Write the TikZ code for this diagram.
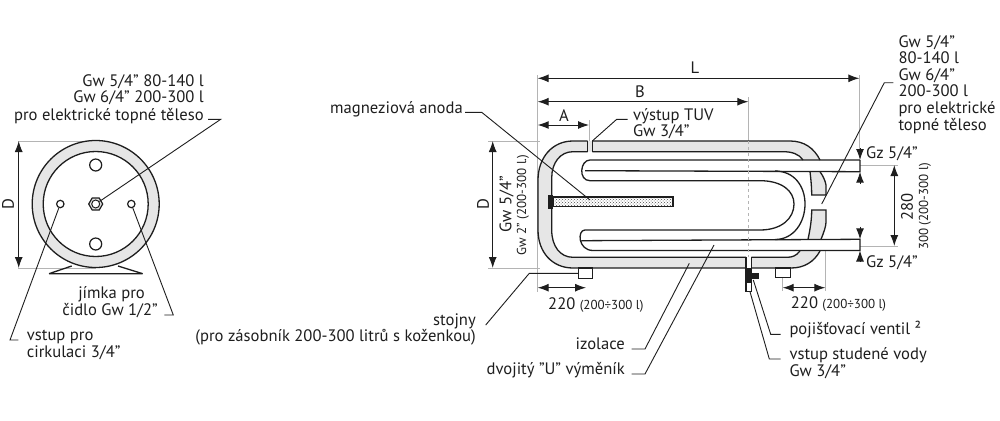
\documentclass[tikz,border=0pt]{standalone}
\usepackage{fontspec}
\setmainfont{PT Sans}
\usetikzlibrary{arrows.meta,patterns}
\definecolor{ins}{HTML}{E6E6E6}
\definecolor{ext}{HTML}{B4B4B4}
\definecolor{ink}{HTML}{1E1E1E}
\tikzset{
  outl/.style={draw=ink,line width=1.3pt},
  leader/.style={draw=ink,line width=0.9pt},
  extline/.style={draw=ext,line width=0.8pt},
  dimline/.style={draw=ink,line width=1pt,{Latex[length=11pt,width=8pt]}-{Latex[length=11pt,width=8pt]}},
  ptr/.style={draw=ink,line width=1pt,-{Latex[length=11pt,width=8pt]}},
  txt/.style={inner sep=0pt,text=ink,font=\fontsize{16.6}{18}\selectfont},
  small/.style={inner sep=0pt,text=ink,font=\fontsize{13}{15}\selectfont},
}
\begin{document}
\begin{tikzpicture}[x=1pt,y=-1pt]
\useasboundingbox (0,0) rectangle (1000,420);
\fill[white] (0,0) rectangle (1000,420);
% ---------- left view ----------
\coordinate (c) at (95.7,204);
\draw[extline] (18,141) -- (96,141) (18,268) -- (96,268);
\fill[ins] (c) circle (63.5);
\draw[outl,fill=white] (c) circle (52.5);
\draw[outl] (c) circle (63.5);
\draw[outl] (49,273.7) -- (142.7,273.7) (49,273.7) -- (71.7,266) (142.7,273.7) -- (118,266);
\node[draw=ink,line width=1.2pt,circle,minimum size=12pt,inner sep=0pt] (h1) at (95.7,165) {};
\node[draw=ink,line width=1.2pt,circle,minimum size=12pt,inner sep=0pt] (h2) at (95.7,244) {};
\node[draw=ink,line width=1.2pt,circle,minimum size=7.4pt,inner sep=0pt] (h3) at (60.3,204) {};
\node[draw=ink,line width=1.2pt,circle,minimum size=7.4pt,inner sep=0pt] (h4) at (131.3,204) {};
\draw[ink,line width=1.2pt,fill=ins] (102.7,204) -- (99.2,210) -- (92.2,210) -- (88.7,204) -- (92.2,198) -- (99.2,198) -- cycle;
\node[draw=ink,line width=1pt,circle,fill=white,minimum size=8pt,inner sep=0pt] (h0) at (95.7,204) {};
\coordinate (dla) at (18.7,141); \coordinate (dlb) at (18.7,268);
\draw[dimline] (dla) -- (dlb);
\node[txt,rotate=90] (dl) at (8,204) {D};
\node[txt,anchor=base east] (t1) at (204,86.7) {Gw 5/4" 80-140 l};
\node[txt,anchor=base east] (t2) at (204,102.5) {Gw 6/4" 200-300 l};
\node[txt,anchor=base east] (t3) at (204,120) {pro elektrické topné těleso};
\coordinate (l1a) at (208,119.3); \coordinate (l1b) at (220.7,119.3);
\draw[leader] (l1a) -- (l1b) -- (h0);
\node[txt,anchor=base east] (t4) at (145,298) {jímka pro};
\node[txt,anchor=base east] (t5) at (158,315) {čidlo Gw 1/2"};
\coordinate (l2a) at (164.3,315); \coordinate (l2b) at (173.3,315);
\draw[leader] (l2a) -- (l2b) -- (h4);
\node[txt,anchor=base west] (t6) at (26.7,340) {vstup pro};
\node[txt,anchor=base west] (t7) at (26.7,357) {cirkulaci 3/4"};
\coordinate (l3a) at (18.3,340); \coordinate (l3b) at (10,340);
\draw[leader] (l3a) -- (l3b) -- (h3);
% ---------- right view: extension lines ----------
\draw[extline] (537.7,75) -- (537.7,292);
\draw[extline] (859.3,75) -- (859.3,150);
\draw[extline] (589,120) -- (589,141);
\draw[extline] (748.3,97) -- (748.3,141);
\draw[extline] (488,141) -- (540,141) (488,268) -- (540,268);
\draw[extline] (860,165) -- (898,165) (860,246) -- (898,246);
\draw[extline] (825.3,250) -- (825.3,291);
\draw[extline] (782.7,278) -- (782.7,291);
% tank body
\path[fill=ins] (573,141) -- (790,141) .. controls (804,141) and (814,148) .. (820,160) -- (820,251) .. controls (814,262) and (804,268) .. (791,268) -- (573,268) .. controls (552,268) and (538,252) .. (538,230) -- (538,180) .. controls (538,158) and (552,141) .. (573,141) -- cycle;
\path[fill=white] (573,151.7) -- (783,151.7) .. controls (792,151.7) and (799,154) .. (803,160) -- (800,251.7) .. controls (796,256) and (792,257.3) .. (787,257.3) -- (573,257.3) .. controls (560,257.3) and (551.7,246) .. (551.7,230) -- (551.7,178) .. controls (551.7,163) and (560,151.7) .. (573,151.7) -- cycle;
\fill[white] (799,160) rectangle (828,251);
\draw[outl] (820,160) .. controls (814,148) and (804,141) .. (790,141) -- (592.3,141);
\draw[outl] (587.7,141) -- (573,141) .. controls (552,141) and (538,158) .. (538,180) -- (538,230) .. controls (538,252) and (552,268) .. (573,268) -- (746,268);
\draw[outl] (751.3,268) -- (791,268) .. controls (804,268) and (814,262) .. (820,251);
\draw[outl] (587.7,151.7) -- (573,151.7) .. controls (560,151.7) and (551.7,163) .. (551.7,178) -- (551.7,230) .. controls (551.7,246) and (560,257.3) .. (573,257.3) -- (746,257.3);
\draw[outl] (592.3,151.7) -- (783,151.7) .. controls (792,151.7) and (799,154) .. (803,160);
\draw[outl] (751.3,257.3) -- (787,257.3) .. controls (792,257.3) and (796,256) .. (800,251);
\draw[outl] (587.7,141) -- (587.7,151.7) (592.3,141) -- (592.3,151.7);
\fill[white] (746,256.8) rectangle (751.3,268.5);
\draw[outl] (746,257.3) -- (746,268) (751.3,257.3) -- (751.3,268);
% right flange pieces
\path[fill=ins] (810,171.7) .. controls (811,180) and (811.7,188) .. (811.7,195) -- (826,195) -- (826,185) .. controls (825,180) and (823,176) .. (820,171.7) -- cycle;
\path[fill=ins] (811.7,210) .. controls (811.7,220) and (810,230) .. (808,239.3) -- (821,239.3) .. controls (824,232) and (826,226) .. (826,222) -- (826,210) -- cycle;
\draw[outl] (810,171.7) .. controls (811,180) and (811.7,188) .. (811.7,195) -- (826,195) -- (826,185) .. controls (825,180) and (823,176) .. (820,171.7);
\draw[outl] (808,239.3) .. controls (810,230) and (811.7,220) .. (811.7,210) -- (826,210) -- (826,222) .. controls (826,226) and (824,232) .. (821,239.3);
% U tubes
\draw[outl] (860,160) -- (590,160) .. controls (580,160) and (578,180.7) .. (590,180.7) -- (760,180.7) .. controls (782,180.7) and (794,191) .. (794,204) .. controls (794,218) and (782,230) .. (760,230) -- (585,230) .. controls (577,230) and (578,250.5) .. (593,250.5) -- (860,250.5) -- (860,239.3) -- (581.7,240.7);
\draw[outl] (860,160) -- (860,171.7) -- (585,170.7);
\draw[outl] (775,171) .. controls (794,171) and (805,186) .. (805,204) .. controls (805,222) and (794,239.5) .. (775,239.5);
% dashed centre
\draw[extline,dashed] (748.3,141) -- (748.3,257);
% anode
\node[draw=ink,line width=1.3pt,minimum width=120pt,minimum height=9.6pt,inner sep=0pt,preaction={fill=white},pattern=crosshatch dots,pattern color=ink!80] (an) at (613,201.8) {};
\fill[ink] (548.3,195) rectangle (553.3,209);
% feet
\draw[outl,fill=white] (578.3,268) rectangle (592.7,278.3);
\draw[outl,fill=white] (775.7,268) rectangle (790.7,277.3);
% valve
\draw[outl,fill=white] (746,281) rectangle (751.3,291.7);
\fill[ink] (745.4,268) rectangle (751.9,283);
\fill[ink] (751,272.7) rectangle (759.3,279.3);
% dimensions
\coordinate (ll) at (537.7,78.3); \coordinate (lr) at (859.3,78.3);
\draw[dimline] (ll) -- (lr);
\node[txt] (tL) at (695,68) {L};
\coordinate (bl) at (537.7,101.7); \coordinate (br) at (748.3,101.7);
\draw[dimline] (bl) -- (br);
\node[txt] (tB) at (640,91.7) {B};
\coordinate (al) at (537.7,125); \coordinate (ar) at (589,125);
\draw[dimline] (al) -- (ar);
\node[txt] (tA) at (564,116) {A};
\coordinate (dra) at (492.7,141); \coordinate (drb) at (492.7,268);
\draw[dimline] (dra) -- (drb);
\node[txt,rotate=90] (tD) at (483,204) {D};
\node[txt,rotate=90] (tG1) at (506.7,204.5) {Gw 5/4"};
\node[small,rotate=90] (tG2) at (523,205) {Gw 2" (200-300 l.)};
\coordinate (s1) at (537.7,287.7); \coordinate (s2) at (586,287.7);
\draw[dimline] (s1) -- (s2);
\node[txt,anchor=base west] (t220) at (548,309) {220 \fontsize{13}{15}\selectfont (200÷300 l)};
\coordinate (s3) at (782.7,287.7); \coordinate (s4) at (825.3,287.7);
\draw[dimline] (s3) -- (s4);
\node[txt,anchor=base west] (t221) at (790.7,308) {220 \fontsize{13}{15}\selectfont (200÷300 l)};
% Gz arrows
\coordinate (g1a) at (860,148); \coordinate (g1b) at (860,160);
\coordinate (g2a) at (860,184); \coordinate (g2b) at (860,171.7);
\coordinate (g3a) at (860,226.7); \coordinate (g3b) at (860,239.3);
\coordinate (g4a) at (860,262); \coordinate (g4b) at (860,250.5);
\draw[ptr] (g1a) -- (g1b);
\draw[ptr] (g2a) -- (g2b);
\draw[ptr] (g3a) -- (g3b);
\draw[ptr] (g4a) -- (g4b);
\node[txt,anchor=base west] (gz1) at (866,158) {Gz 5/4"};
\node[txt,anchor=base west] (gz2) at (866,267) {Gz 5/4"};
\coordinate (d1) at (894.3,165); \coordinate (d2) at (894.3,246);
\draw[dimline] (d1) -- (d2);
\node[txt,rotate=90] (t280) at (907,206.7) {280};
\node[small,rotate=90] (t300) at (925,206.5) {300 (200-300 l)};
% labels and leaders right view
\node[txt,anchor=base east] (tm) at (463,113) {magneziová anoda};
\coordinate (m1) at (465,112.3); \coordinate (m2) at (481.7,112.3); \coordinate (m3) at (590,200);
\draw[leader] (m1) -- (m2) -- (m3);
\node[txt,anchor=base west] (tv1) at (633,120) {výstup TUV};
\node[txt,anchor=base west] (tv2) at (633,136) {Gw 3/4"};
\coordinate (v1) at (627.7,119.3); \coordinate (v2) at (616.7,119.3); \coordinate (v3) at (592.3,141);
\draw[leader] (v1) -- (v2) -- (v3);
\node[txt,anchor=base west] (r1) at (898.3,47.3) {Gw 5/4"};
\node[txt,anchor=base west] (r2) at (898.3,63.3) {80-140 l};
\node[txt,anchor=base west] (r3) at (898.3,80) {Gw 6/4"};
\node[txt,anchor=base west] (r4) at (898.3,96.7) {200-300 l};
\node[txt,anchor=base west] (r5) at (898.3,113) {pro elektrické};
\node[txt,anchor=base west] (r6) at (898.3,130) {topné těleso};
\coordinate (q1) at (893.3,82.7); \coordinate (q2) at (884.3,82.7); \coordinate (q3) at (821.7,204);
\draw[leader] (q1) -- (q2) -- (q3);
\node[txt,anchor=base east] (ti) at (625,349.3) {izolace};
\node[txt,anchor=base east] (tu) at (625,374) {dvojitý "U" výměník};
\coordinate (i1) at (631.7,349); \coordinate (i2) at (645,349); \coordinate (i3) at (689.3,263.3);
\draw[leader] (i1) -- (i2) -- (i3);
\coordinate (u1) at (631.7,374); \coordinate (u2) at (645,374); \coordinate (u3) at (714,245);
\draw[leader] (u1) -- (u2) -- (u3);
\node[txt,anchor=base west] (tp) at (789.3,334.3) {pojišťovací ventil ²};
\node[txt,anchor=base west] (ts1) at (789.3,359.3) {vstup studené vody};
\node[txt,anchor=base west] (ts2) at (789.3,376.7) {Gw 3/4"};
\coordinate (p1) at (780.7,334.3); \coordinate (p2) at (770.7,334.3); \coordinate (p3) at (753.3,280);
\draw[leader] (p1) -- (p2) -- (p3);
\coordinate (w1) at (780.7,359); \coordinate (w2) at (769.3,359); \coordinate (w3) at (750,291.7);
\draw[leader] (w1) -- (w2) -- (w3);
\node[txt,anchor=base east] (ts) at (476,325.7) {stojny};
\node[txt,anchor=base east] (tz) at (476,341) {(pro zásobník 200-300 litrů s koženkou)};
\coordinate (z1) at (578,273.3); \coordinate (z2) at (529.3,273.3); \coordinate (z3) at (485.7,325);
\draw[leader] (z1) -- (z2) -- (z3);
\end{tikzpicture}
\end{document}
